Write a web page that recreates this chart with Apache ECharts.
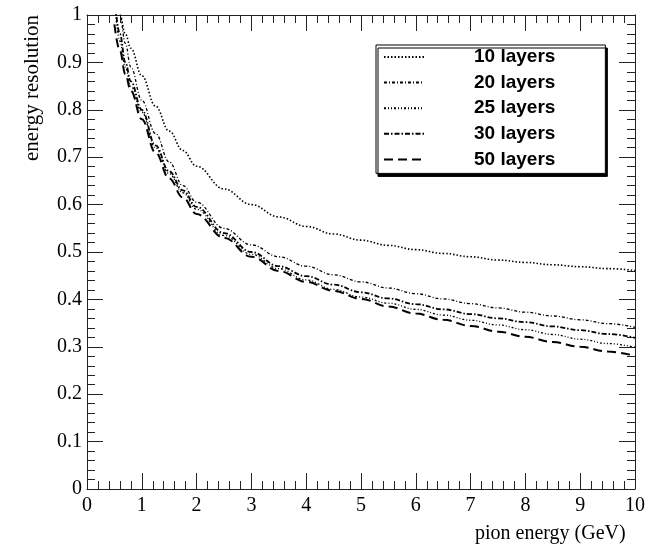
<!DOCTYPE html>
<html>
<head>
<meta charset="utf-8">
<script src="https://cdn.jsdelivr.net/npm/echarts@6/dist/echarts.min.js"></script>
<style>
  html, body { margin: 0; padding: 0; background: #fff; }
  #chart { width: 665px; height: 545px; }
</style>
</head>
<body>
<div id="chart"></div>
<script>
// pion energy (GeV), shared by every curve
const energy = [0.5, 0.6, 0.7, 0.8, 1, 1.25, 1.5, 1.75, 2, 2.5, 3, 3.5, 4, 4.5, 5, 5.5, 6, 6.5, 7, 7.5, 8, 8.5, 9, 9.5, 10]

// energy resolution (values above 1 are clipped by the frame)
const layers10 = [1.08, 1.0, 0.96, 0.93, 0.872, 0.808, 0.755, 0.714, 0.681, 0.633, 0.6, 0.574, 0.554, 0.538, 0.525, 0.514, 0.505, 0.497, 0.49, 0.483, 0.478, 0.473, 0.469, 0.465, 0.461]
const layers20 = [1.06, 1.0, 0.94, 0.89, 0.82, 0.75, 0.69, 0.64, 0.605, 0.55, 0.515, 0.49, 0.47, 0.452, 0.437, 0.424, 0.412, 0.401, 0.391, 0.382, 0.373, 0.365, 0.357, 0.349, 0.341]
const layers25 = [1.03, 0.945, 0.89, 0.85, 0.795, 0.72, 0.665, 0.625, 0.59, 0.535, 0.495, 0.465, 0.441, 0.421, 0.405, 0.392, 0.379, 0.367, 0.356, 0.346, 0.336, 0.326, 0.316, 0.307, 0.299]
const layers30 = [1.04, 0.96, 0.9, 0.86, 0.8, 0.725, 0.67, 0.63, 0.595, 0.54, 0.5, 0.47, 0.449, 0.431, 0.415, 0.402, 0.39, 0.379, 0.369, 0.36, 0.352, 0.343, 0.335, 0.327, 0.319]
const layers50 = [0.98, 0.925, 0.875, 0.84, 0.78, 0.71, 0.655, 0.615, 0.58, 0.53, 0.49, 0.46, 0.437, 0.418, 0.401, 0.385, 0.37, 0.357, 0.344, 0.332, 0.321, 0.31, 0.3, 0.29, 0.281]

const seriesNames = ['10 layers', '20 layers', '25 layers', '30 layers', '50 layers']
const xTicks = [0, 10, 1]
const yTicks = [0, 1, 0.1]

const chart = echarts.init(document.getElementById('chart'), null, { renderer: 'canvas' })

const serif = 'Liberation Serif'
const frame = '#222'

function pairs(ys) {
	return energy.map((e, i) => [e, ys[i]])
}

function lineSeries(name, ys, dash, width) {
	return {
		name: name,
		type: 'line',
		data: pairs(ys),
		symbol: 'none',
		showSymbol: false,
		smooth: 0.4,
		smoothMonotone: 'x',
		clip: true,
		animation: false,
		lineStyle: { color: '#000', width: width, type: dash },
		itemStyle: { color: '#000' },
	}
}

function axisCommon(showLabel) {
	return {
		axisLine: { show: true, onZero: false, lineStyle: { color: frame, width: 1 } },
		axisTick: { show: true, inside: true, length: 16, lineStyle: { color: frame } },
		minorTick: { show: true, splitNumber: 5, length: 8, lineStyle: { color: frame } },
		splitLine: { show: false },
		axisLabel: {
			show: showLabel,
			color: '#000',
			fontFamily: serif,
			fontSize: 20,
		},
	}
}

const xBottom = Object.assign(axisCommon(true), {
	type: 'value', position: 'bottom', min: xTicks[0], max: xTicks[1], interval: xTicks[2],
})
xBottom.axisLabel.margin = 7
const xTop = Object.assign(axisCommon(false), {
	type: 'value', position: 'top', min: xTicks[0], max: xTicks[1], interval: xTicks[2],
})
const yLeft = Object.assign(axisCommon(true), {
	type: 'value', position: 'left', min: yTicks[0], max: yTicks[1], interval: yTicks[2],
})
yLeft.axisLabel.margin = 5
const yRight = Object.assign(axisCommon(false), {
	type: 'value', position: 'right', min: yTicks[0], max: yTicks[1], interval: yTicks[2],
})

chart.setOption({
	backgroundColor: '#fff',
	animation: false,
	grid: { left: 87, right: 30, top: 15, bottom: 56, containLabel: false },
	xAxis: [xBottom, xTop],
	yAxis: [yLeft, yRight],
	legend: {
		orient: 'vertical',
		left: 376,
		top: 45,
		data: seriesNames,
		itemWidth: 40,
		itemHeight: 14,
		itemGap: 5.6,
		padding: [2, 50, 4, 7],
		backgroundColor: '#fff',
		borderColor: '#000',
		borderWidth: 1,
		borderRadius: 0,
		shadowColor: '#000',
		shadowBlur: 0,
		shadowOffsetX: 2,
		shadowOffsetY: 3,
		selectedMode: false,
		// hide the marker dot, keep only the line sample
		itemStyle: { opacity: 0 },
		textStyle: {
			color: '#000',
			fontFamily: 'Liberation Sans',
			fontWeight: 'bold',
			fontSize: 19,
			lineHeight: 20,
			padding: [0, 0, 0, 45],
		},
	},
	graphic: [
		{
			type: 'text',
			left: 635 - 160,
			top: 524,
			style: {
				text: 'pion energy (GeV)',
				font: '20px "Liberation Serif"',
				fill: '#000',
			},
		},
		{
			type: 'text',
			x: 22,
			y: 15,
			rotation: Math.PI / 2,
			style: {
				text: 'energy resolution',
				font: '21px "Liberation Serif"',
				fill: '#000',
				align: 'right',
				verticalAlign: 'top',
			},
		},
	],
	series: [
		lineSeries(seriesNames[0], layers10, [1.5, 2], 1.6),
		lineSeries(seriesNames[1], layers20, [3, 2, 1, 2], 1.3),
		lineSeries(seriesNames[2], layers25, [2, 2, 1, 2, 1, 2], 1.3),
		lineSeries(seriesNames[3], layers30, [5, 2, 1.5, 2], 1.8),
		lineSeries(seriesNames[4], layers50, [9, 5], 2),
	],
})
</script>
</body>
</html>
